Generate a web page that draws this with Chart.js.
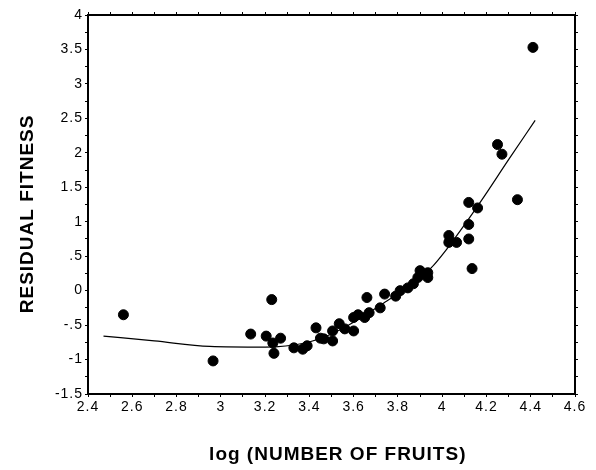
<!DOCTYPE html>
<html>
<head>
<meta charset="utf-8">
<script src="https://cdn.jsdelivr.net/npm/chart.js@4/dist/chart.umd.min.js"></script>
<style>
  body { margin: 0; background: #fff; }
  canvas { display: block; }
</style>
</head>
<body>
<canvas id="fitness-chart" width="596" height="470"></canvas>
<script>
// log(number of fruits) and residual fitness, one entry per plant
const logFruits = [2.56, 2.965, 3.135, 3.205, 3.23, 3.24, 3.235, 3.27, 3.33, 3.37, 3.39, 3.43,
    3.45, 3.465, 3.505, 3.505, 3.535, 3.56, 3.60, 3.60, 3.62, 3.65, 3.66, 3.67,
    3.72, 3.74, 3.79, 3.81, 3.845, 3.87, 3.89, 3.90, 3.915, 3.935, 3.935,
    4.03, 4.03, 4.035, 4.065, 4.12, 4.12, 4.12, 4.16, 4.135, 4.25, 4.27, 4.34, 4.41];
const residualFitness = [-0.35, -1.02, -0.63, -0.66, -0.13, -0.91, -0.76, -0.69, -0.83, -0.85, -0.80, -0.54,
    -0.69, -0.70, -0.585, -0.73, -0.48, -0.555, -0.585, -0.39, -0.35, -0.39, -0.10, -0.32,
    -0.25, -0.05, -0.08, 0.0, 0.04, 0.10, 0.19, 0.29, 0.24, 0.26, 0.19,
    0.70, 0.80, 0.72, 0.70, 0.75, 0.96, 1.28, 1.20, 0.32, 2.12, 1.98, 1.32, 3.53];

// fitted curve
const curveX = [2.47, 2.7, 2.95, 3.2, 3.38, 3.5, 3.62, 3.75, 3.85, 3.95, 4.02, 4.1, 4.18, 4.3, 4.42];
const curveY = [-0.66, -0.73, -0.81, -0.82, -0.76, -0.63, -0.42, -0.15, 0.06, 0.33, 0.6, 0.95, 1.32, 1.9, 2.47];

const chartCanvas = document.getElementById('fitness-chart');

const font = 'Liberation Sans, Arial, Helvetica, sans-serif';

const xLabel = (value) => {
    const v = Math.round(value * 10);
    return v % 2 === 0 ? (v / 10).toString() : '';
};
const yLabel = (value) => {
    const v = Math.round(value * 4);
    if (v % 2 !== 0) return '';
    return (v / 4).toString().replace(/^(-?)0\./, '$1.');
};

// the printed figure uses a wide type face, so spread the letters a little
const letterSpacing = {
    id: 'letterSpacing',
    beforeDraw: (chart) => { chart.ctx.letterSpacing = '1px'; }
};

const axisBase = {
    type: 'linear',
    border: { color: '#000', width: 2 },
    grid: { drawOnChartArea: false, tickLength: 3, color: '#000', lineWidth: 1 }
};

new Chart(chartCanvas, {
    type: 'scatter',
    data: {
        datasets: [
            {
                label: 'Plants',
                data: logFruits.map((x, i) => ({ x, y: residualFitness[i] })),
                backgroundColor: '#000',
                borderColor: '#000',
                borderWidth: 1,
                pointRadius: 5
            },
            {
                label: 'Fit',
                type: 'line',
                data: curveX.map((x, i) => ({ x, y: curveY[i] })),
                borderColor: '#000',
                borderWidth: 1.2,
                pointRadius: 0,
                fill: false,
                cubicInterpolationMode: 'monotone'
            }
        ]
    },
    options: {
        responsive: false,
        animation: false,
        layout: { padding: 0 },
        plugins: { legend: { display: false }, tooltip: { enabled: false } },
        scales: {
            x: {
                ...axisBase,
                position: 'bottom',
                min: 2.4, max: 4.6,
                ticks: { stepSize: 0.1, autoSkip: false, maxRotation: 0, padding: 2, color: '#000',
                    font: { family: font, size: 14 }, callback: xLabel },
                title: { display: true, text: '  log (NUMBER OF FRUITS)', color: '#000',
                    font: { family: font, size: 19, weight: 'bold' }, padding: { top: 0, bottom: 4 } },
                afterFit: (s) => { s.height = 76; }
            },
            x2: {
                ...axisBase,
                position: 'top',
                min: 2.4, max: 4.6,
                ticks: { stepSize: 0.1, autoSkip: false, display: false },
                afterFit: (s) => { s.height = 15; }
            },
            y: {
                ...axisBase,
                position: 'left',
                min: -1.5, max: 4,
                ticks: { stepSize: 0.25, autoSkip: false, padding: 2, color: '#000',
                    font: { family: font, size: 14 }, callback: yLabel },
                title: { display: true, text: 'RESIDUAL FITNESS   ', color: '#000',
                    font: { family: font, size: 19, weight: 'bold' }, padding: { top: 16, bottom: 0 } },
                afterFit: (s) => { s.width = 88; }
            },
            y2: {
                ...axisBase,
                position: 'right',
                min: -1.5, max: 4,
                ticks: { stepSize: 0.25, autoSkip: false, display: false },
                afterFit: (s) => { s.width = 21; }
            }
        }
    },
    plugins: [letterSpacing]
});
</script>
</body>
</html>
